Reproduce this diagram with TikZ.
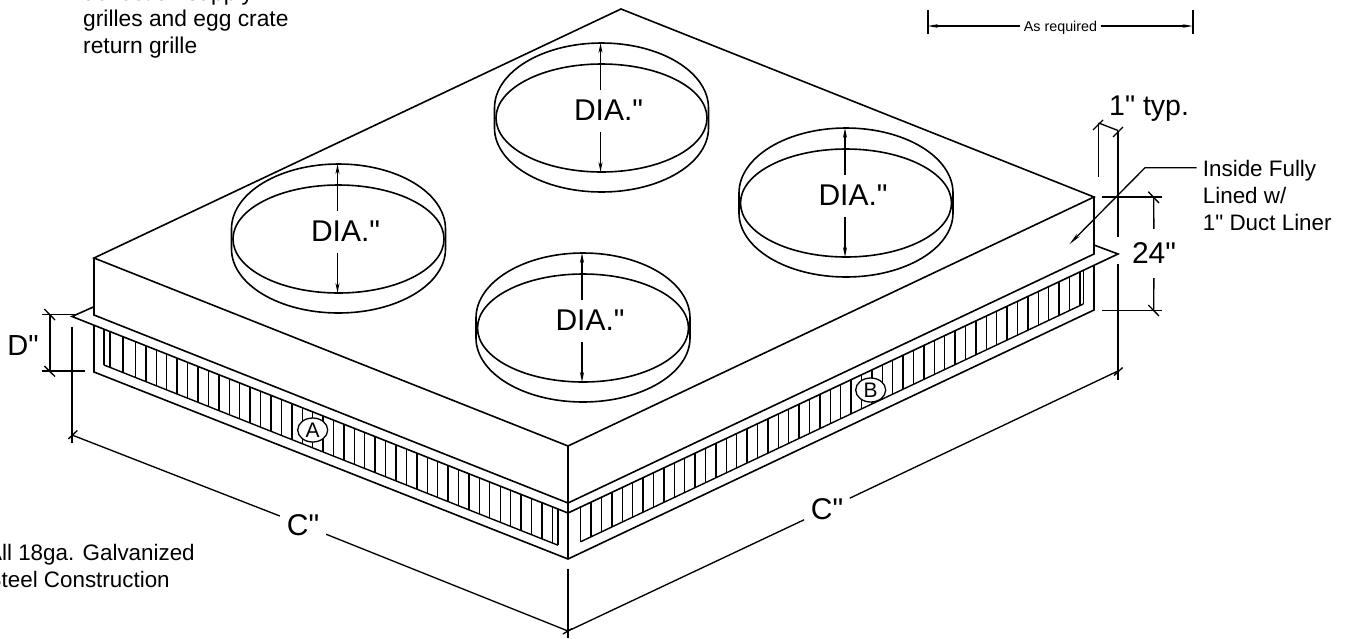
\documentclass[tikz,border=0pt]{standalone}
\usepackage{fontspec}
\newfontfamily\lib{Liberation Sans}
\usetikzlibrary{arrows.meta,shapes.geometric,calc}
\tikzset{
  x=1pt,y=-1pt,
  part/.style={line width=1.6pt,black},
  thin part/.style={line width=1.4pt,black},
  dim/.style={line width=1.35pt,black},
  tip/.style={-{Stealth[length=10pt,width=4pt]}},
  big/.style={font=\lib\fontsize{30}{32}\selectfont,inner sep=0pt},
  note/.style={font=\lib\fontsize{22.4}{27}\selectfont,inner sep=0pt,align=left},
  mark circle/.style={ellipse,draw,fill=white,line width=1.3pt,inner sep=0pt,minimum width=30pt,minimum height=24pt,font=\lib\fontsize{21}{21}\selectfont},
}
\newcommand{\ductring}[3]{%
  \coordinate (#1c) at (#2,#3);
  \draw[part] ($(#1c)+(-107,-10)$) -- ($(#1c)+(-107,10)$) arc[start angle=180,end angle=360,x radius=107,y radius=-64] -- ($(#1c)+(107,-10)$) arc[start angle=0,end angle=180,x radius=107,y radius=-65];
  \draw[part] (#1c) ellipse[x radius=105.5,y radius=54];
  \node[big] (#1t) at ($(#1c)+(7,-7.5)$) {DIA."};
  \coordinate (#1a) at ($(#1c)+(-1,-28)$);
  \coordinate (#1b) at ($(#1c)+(-1,-75)$);
  \coordinate (#1d) at ($(#1c)+(-1,13.5)$);
  \coordinate (#1e) at ($(#1c)+(-1,54)$);
  \draw[dim,tip] (#1a) -- (#1b);
  \draw[dim,tip] (#1d) -- (#1e);
}
\begin{document}
\begin{tikzpicture}
\useasboundingbox (0,0) rectangle (1353,638);
\clip (0,0) rectangle (1353,638);
% main corners
\coordinate (tL) at (94,258);
\coordinate (tB) at (621,9);
\coordinate (tR) at (1094,197);
\coordinate (tF) at (568,446);
\coordinate (bL) at (94,315);
\coordinate (bF) at (568,503);
\coordinate (bR) at (1094,254);
\coordinate (fL) at (72,316.5);
\coordinate (fF) at (568,513);
\coordinate (fR) at (1118,254);
\coordinate (fLb) at (94,306.7);
\coordinate (fRb) at (1094,245);
\coordinate (gLt) at (94,326);
\coordinate (gLb) at (94,372);
\coordinate (gF) at (568,559);
\coordinate (gRb) at (1094,310);
\coordinate (gRt) at (1094,265);
% grille bars, left face
\foreach \k in {0,...,40}{
  \pgfmathsetmacro{\xx}{552.3-10.42*\k}
  \pgfmathsetmacro{\ya}{316.5+0.3952*(\xx-72)}
  \pgfmathsetmacro{\yb}{365+0.397*(\xx-104)}
  \draw[thin part] (\xx,\ya) -- (\xx,\yb);
}
\foreach \xx in {123,110,104,558}{
  \pgfmathsetmacro{\ya}{316.5+0.3952*(\xx-72)}
  \pgfmathsetmacro{\yb}{365+0.397*(\xx-104)}
  \draw[thin part] (\xx,\ya) -- (\xx,\yb);
}
\coordinate (iLa) at (104,365);
\coordinate (iLb) at (558,545.2);
\draw[thin part] (iLa) -- (iLb);
% grille bars, right face
\foreach \k in {0,...,48}{
  \pgfmathsetmacro{\xx}{580.7+10.4*\k}
  \pgfmathsetmacro{\ya}{513-0.4709*(\xx-568)}
  \pgfmathsetmacro{\yb}{541.7-0.473*(\xx-580.7)}
  \draw[thin part] (\xx,\ya) -- (\xx,\yb);
}
\foreach \xx in {1083.3}{
  \pgfmathsetmacro{\ya}{513-0.4709*(\xx-568)}
  \pgfmathsetmacro{\yb}{541.7-0.473*(\xx-580.7)}
  \draw[thin part] (\xx,\ya) -- (\xx,\yb);
}
\coordinate (iRa) at (580.7,541.7);
\coordinate (iRb) at (1083.3,304);
\draw[thin part] (iRa) -- (iRb);
% plenum body
\draw[part] (tL) -- (tB) -- (tR) -- (tF) -- cycle;
\draw[part] (tL) -- (bL) -- (bF) -- (bR) -- (tR);
\draw[part] (tF) -- (bF);
% flange
\draw[part] (fLb) -- (fL) -- (fF) -- (fR) -- (fRb);
\draw[part] (bF) -- (fF) -- (gF);
% frame
\draw[part] (gLt) -- (gLb) -- (gF) -- (gRb) -- (gRt);
% collars
\ductring{n}{338.5}{239}
\ductring{k}{601.5}{118}
\ductring{r}{846}{203}
\ductring{s}{583}{328}
% marks
\node[mark circle] (mA) at (312.7,430) {A};
\node[mark circle] (mB) at (870.7,390) {B};
% D dimension
\coordinate (d1) at (50,314.5);
\coordinate (d2) at (50,371);
\draw[dim] (d1) -- (d2);
\draw[dim] (42,314.5) -- (76,314.5);
\draw[dim] (42,371) -- (85,371);
\draw[dim] (44.3,309) -- (55,320);
\draw[dim] (44.3,366) -- (55,376.5);
\node[big,font=\lib\fontsize{29}{30}\selectfont] (lD) at (23,346) {D"};
% C dimensions
\coordinate (eL) at (72,327);
\coordinate (c1) at (72,435);
\coordinate (eLb) at (72,443);
\draw[dim] (eL) -- (eLb);
\draw[dim] (68.3,439) -- (77.3,430.5);
\coordinate (c2) at (568,631);
\coordinate (eF) at (568,569);
\coordinate (eFb) at (568,638);
\draw[dim] (eF) -- (eFb);
\draw[dim] (563,634) -- (572,628.5);
\node[big,minimum width=46pt] (lC1) at (303,525) {C"};
\draw[dim] (c1) -- (lC1) -- (c2);
\coordinate (c3) at (1118,371);
\node[big,minimum width=46pt] (lC2) at (827,509) {C"};
\draw[dim] (c2) -- (lC2) -- (c3);
\draw[dim] (1114,375.5) -- (1122.7,367.5);
% right verticals
\coordinate (v1) at (1118,130.5);
\coordinate (v2) at (1118,236.7);
\coordinate (v3) at (1118,264);
\coordinate (v4) at (1118,380);
\draw[dim] (v1) -- (v2);
\draw[dim] (v3) -- (v4);
\coordinate (w1) at (1098.7,123);
\coordinate (w2) at (1098.7,177);
\draw[dim] (w1) -- (w2);
\draw[dim] (w1) -- (v1);
\draw[dim] (1093,130) -- (1103,120);
\draw[dim] (1113,137) -- (1123,127);
\node[big,font=\lib\fontsize{28.5}{30}\selectfont,anchor=base west] (lT) at (1109,115) {1" typ.};
% 24 dimension
\node[big,minimum height=49pt] (l24) at (1154,253.5) {24"};
\coordinate (h1) at (1153.7,197);
\coordinate (h2) at (1153.7,310.5);
\draw[dim] (h1) -- (l24) -- (h2);
\draw[dim] (1102,197) -- (1161.7,197);
\draw[dim] (1102,310.5) -- (1161.7,310.5);
\draw[dim] (1148.3,191.7) -- (1159,203);
\draw[dim] (1148.3,305) -- (1159,316);
% leader
\node[note,anchor=north west] (lIn) at (1202.7,160) {Inside Fully\\Lined w/\\1" Duct Liner};
\coordinate (q1) at (1196.7,167.7);
\coordinate (q2) at (1145,167.7);
\coordinate (q3) at (1069.3,244.3);
\draw[dim,-{Stealth[length=13pt,width=4pt]}] (q1) -- (q2) -- (q3);
% as required
\coordinate (a1) at (927.7,26);
\coordinate (a2) at (1192.7,26);
\draw[part] (927.7,10) -- (927.7,34);
\draw[part] (1192.7,10) -- (1192.7,34);
\node[inner sep=0pt,minimum width=80pt,text height=10pt,text depth=0pt,font=\lib\fontsize{14.3}{15}\selectfont] (lA) at (1060.5,26) {As required};
\draw[dim,-{Stealth[length=10pt,width=3.5pt]}] (lA) -- (a1);
\draw[dim,-{Stealth[length=10pt,width=3.5pt]}] (lA) -- (a2);
% notes
\node[note,font=\lib\fontsize{22.8}{27}\selectfont,anchor=base west] (n1) at (83,0.3) {deflection supply};
\node[note,font=\lib\fontsize{22.8}{27}\selectfont,anchor=base west] (n2) at (83,26.8) {grilles and egg crate};
\node[note,font=\lib\fontsize{22.8}{27}\selectfont,anchor=base west] (n3) at (83,53.3) {return grille};
\node[note,anchor=base west] (n4) at (-13,560) {All 18ga. Galvanized};
\node[note,anchor=base west] (n5) at (-13.5,587) {Steel Construction};
\end{tikzpicture}
\end{document}
